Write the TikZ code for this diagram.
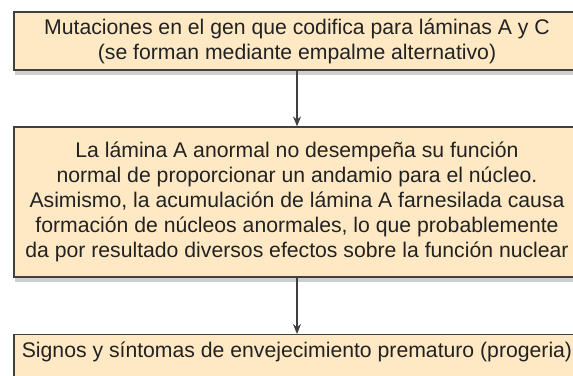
\documentclass[tikz,border=0pt]{standalone}
\usepackage{fontspec}
\setmainfont{Liberation Sans}
\usetikzlibrary{arrows.meta,shadows}
\definecolor{ink}{HTML}{222222}
\definecolor{line}{HTML}{404040}
\definecolor{stepfill}{HTML}{FEE9C4}
\definecolor{shade}{HTML}{CFCFCF}

\begin{document}
\begin{tikzpicture}[
  x=1pt, y=-1pt,
  font=\fontsize{21.2}{25}\selectfont,
  text=ink,
  box/.style={
    draw=line,
    line width=1.3pt,
    fill=stepfill,
    align=center,
    inner sep=0pt,
    minimum width=566pt,
    drop shadow={shadow xshift=1pt, shadow yshift=-5pt, fill=shade, opacity=1}
  },
  arrow/.style={-{Stealth[length=10pt,width=8pt]}, line width=1.1pt, draw=line}
]

\path[use as bounding box, clip] (0,0) rectangle (573,375);

% Boxes
\node[box, minimum height=58pt] (mutation) at (297,41) {Mutaciones en el gen que codifica para láminas A y C\\(se forman mediante empalme alternativo)};
\node[box, minimum height=150pt] (lamina) at (297,202) {La lámina A anormal no desempeña su función\\normal de proporcionar un andamio para el núcleo.\\Asimismo, la acumulación de lámina A farnesilada causa\\formación de núcleos anormales, lo que probablemente\\da por resultado diversos efectos sobre la función nuclear};
\node[box, anchor=north, inner ysep=8pt, text height=15pt, text depth=30pt] (progeria) at (297,334) {Signos y síntomas de envejecimiento prematuro (progeria)};

% Arrows
\draw[arrow] (mutation) -- (lamina);
\draw[arrow] (lamina) -- (progeria);

\end{tikzpicture}
\end{document}
